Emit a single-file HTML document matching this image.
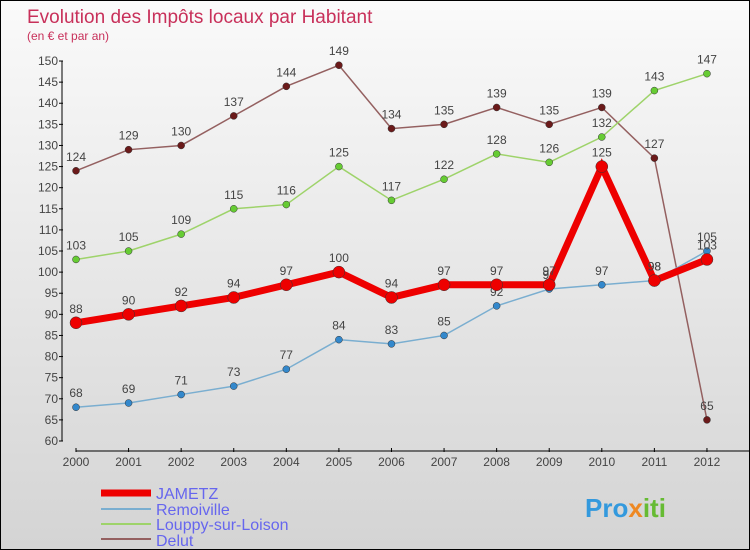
<!DOCTYPE html>
<html><head><meta charset="utf-8"><style>
body{margin:0;}
#c{width:748px;height:548px;border:1px solid #000;background:linear-gradient(#fafafa,#d4d4d4);position:relative;overflow:hidden;font-family:"Liberation Sans",sans-serif;}
</style></head><body>
<div id="c">
<svg id="s" width="748" height="548" xmlns="http://www.w3.org/2000/svg">
<text x="26" y="22" font-size="19" fill="#c8305a">Evolution des Impôts locaux par Habitant</text>
<text x="26" y="39" font-size="12" fill="#c8305a">(en € et par an)</text>
<g id="axes"></g><g id="series"></g>
<g>
<line x1="100" y1="492" x2="150" y2="492" stroke="#e00" stroke-width="7"/>
<text x="155" y="498" font-size="16" fill="#6666ee">JAMETZ</text>
<line x1="100" y1="508" x2="150" y2="508" stroke="#7aaed0" stroke-width="2"/>
<text x="155" y="514" font-size="16" fill="#6666ee">Remoiville</text>
<line x1="100" y1="523" x2="150" y2="523" stroke="#9ed36a" stroke-width="2"/>
<text x="155" y="529" font-size="16" fill="#6666ee">Louppy-sur-Loison</text>
<line x1="100" y1="538" x2="150" y2="538" stroke="#946060" stroke-width="2"/>
<text x="155" y="545" font-size="16" fill="#6666ee">Delut</text>
</g>
<text x="584" y="516" font-size="26" font-weight="bold" fill="#3399dd">Pro<tspan fill="#ee8822">x</tspan><tspan fill="#66bb33">iti</tspan></text>
</svg></div>
<script>
const years=[2000,2001,2002,2003,2004,2005,2006,2007,2008,2009,2010,2011,2012];
const jametz=[88,90,92,94,97,100,94,97,97,97,125,98,103];
const remoiville=[68,69,71,73,77,84,83,85,92,96,97,98,105];
const louppy=[103,105,109,115,116,125,117,122,128,126,132,143,147];
const delut=[124,129,130,137,144,149,134,135,139,135,139,127,65];
const yTicks=[60,65,70,75,80,85,90,95,100,105,110,115,120,125,130,135,140,145,150];
const NS="http://www.w3.org/2000/svg";
const X=i=>75+i*52.58, Y=v=>440-(v-60)*4.222;
function mk(t,a,p){const e=document.createElementNS(NS,t);for(const k in a)e.setAttribute(k,a[k]);p.appendChild(e);return e;}
const ax=document.getElementById('axes'),sg=document.getElementById('series');
let l=mk('line',{x1:61,y1:60,x2:61,y2:440,stroke:'#000'},ax);


l=mk('line',{x1:75,y1:450,x2:748,y2:450,stroke:'#000'},ax);


yTicks.forEach(v=>{mk('line',{x1:58,y1:Y(v),x2:62,y2:Y(v),stroke:'#000'},ax);
const t=mk('text',{x:57,y:Y(v)+4,'font-size':12,fill:'#444','text-anchor':'end'},ax);t.textContent=v;

});
years.forEach((yr,i)=>{mk('line',{x1:X(i),y1:447,x2:X(i),y2:451,stroke:'#000'},ax);
const t=mk('text',{x:X(i),y:465,'font-size':12,fill:'#444','text-anchor':'middle'},ax);t.textContent=yr;

});
function series(d,col,dot,w,r,name){
const p=mk('polyline',{points:d.map((v,i)=>X(i)+','+Y(v)).join(' '),fill:'none',stroke:col,'stroke-width':w},sg);


d.forEach((v,i)=>{const c=mk('circle',{cx:X(i),cy:Y(v),r:r,fill:dot,stroke:'#333','stroke-width':0.5},sg);


const t=mk('text',{x:X(i),y:Y(v)-10,'font-size':12,fill:'#444','text-anchor':'middle'},sg);t.textContent=v;

});}
series(delut,'#946060','#6b1a1a',1.5,3.5,'delut');
series(louppy,'#9ed36a','#66cc33',1.5,3.5,'louppy');
series(remoiville,'#7aaed0','#3388cc',1.5,3.5,'remoiville');
series(jametz,'#ee0000','#ee0000',7,6,'jametz');
</script></body></html>
